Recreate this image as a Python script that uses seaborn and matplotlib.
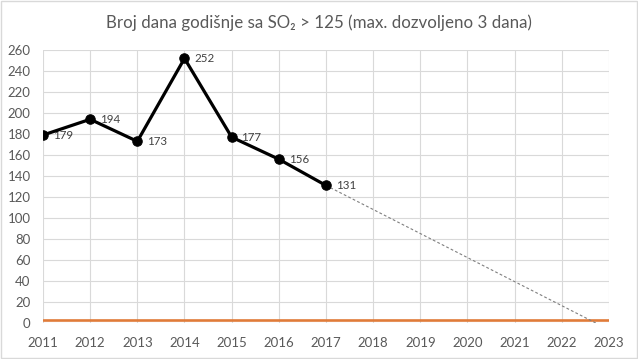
import pandas as pd
import numpy as np
import seaborn as sns
import matplotlib.pyplot as plt

# data
years = [2011, 2012, 2013, 2014, 2015, 2016, 2017]
days = [179, 194, 173, 252, 177, 156, 131]

trend_years = [2017, 2022.72]
trend_days = [131, 0]

limit_years = [2011, 2023]
limit_days = [3, 3]

x_ticks = list(range(2011, 2024))
y_ticks = list(range(0, 261, 20))

df = pd.DataFrame({"Godina": years, "Dani": days})

sns.set_theme(style="white")
plt.rcParams["font.family"] = ["Lato", "DejaVu Sans"]

fig = plt.figure(figsize=(6.38, 3.59), dpi=100)
ax = fig.add_axes([0.0674, 0.1003, 0.8871, 0.7604])

# grid
ax.set_xticks(x_ticks)
ax.set_yticks(y_ticks)
ax.grid(True, color="#d9d9d9", linewidth=0.8)
ax.set_axisbelow(True)

ax.plot(limit_years, limit_days, color="#E07B39", linewidth=1.9, zorder=2)
ax.plot(trend_years, trend_days, color="#7f7f7f", linewidth=0.8,
        linestyle=(0, (2.5, 2)), zorder=3)

sns.lineplot(data=df, x="Godina", y="Dani", ax=ax, color="black",
             linewidth=2.3, marker="o", markersize=6.8,
             markeredgecolor="black", zorder=4)

for x, y in zip(years, days):
    ax.annotate(str(y), (x, y), xytext=(7, 0), textcoords="offset points",
                va="center", ha="left", fontsize=8.3, color="#404040")

ax.set_xlim(2011, 2023)
ax.set_ylim(0, 260)
ax.set_xlabel("")
ax.set_ylabel("")
for s in ax.spines.values():
    s.set_visible(False)
ax.tick_params(axis="both", length=0, labelsize=9.5, colors="#595959")
ax.tick_params(axis="x", pad=10)
ax.tick_params(axis="y", pad=9)

fig.text(0.5, 0.936, "Broj dana godišnje sa SO₂ > 125 (max. dozvoljeno 3 dana)",
         ha="center", va="center", fontsize=12.2, color="#595959")

# outer frame
fig.patches.append(plt.Rectangle((0.002, 0.003), 0.996, 0.994, transform=fig.transFigure,
                                 fill=False, edgecolor="#d9d9d9", linewidth=1))

fig.savefig("out.png", dpi=100)
